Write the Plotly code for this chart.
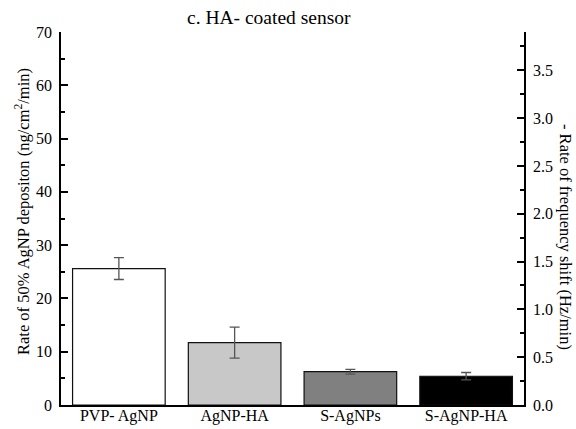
import plotly.graph_objects as go

categories = ["PVP- AgNP", "AgNP-HA", "S-AgNPs", "S-AgNP-HA"]
deposition_rate = [25.6, 11.7, 6.25, 5.4]
deposition_err = [2.05, 2.9, 0.45, 0.7]
bar_colors = ["#ffffff", "#c8c8c8", "#808080", "#000000"]

left_range = [0, 70]
right_range = [0, 3.9]

W, H = 576, 429
ml, mr, mt, mb = 61, 52, 32, 24
pw = W - ml - mr
ph = H - mt - mb

FONT = "Liberation Serif"

fig = go.Figure()
fig.add_trace(go.Bar(
    x=categories, y=deposition_rate,
    marker=dict(color=bar_colors, line=dict(color="#111111", width=1.2)),
    error_y=dict(type="data", array=deposition_err, visible=True,
                 color="#555555", thickness=1.3, width=5),
    showlegend=False,
))
fig.add_trace(go.Scatter(x=[], y=[], yaxis="y2", showlegend=False))

fig.update_layout(
    width=W, height=H,
    margin=dict(l=ml, r=mr, t=mt, b=mb, autoexpand=False),
    paper_bgcolor="white", plot_bgcolor="white",
    font=dict(family=FONT, size=16, color="black"),
    bargap=0.2,
    xaxis=dict(showline=True, linecolor="black", linewidth=1.5,
               ticks="", showgrid=False, automargin=False,
               tickfont=dict(family=FONT, size=16), ticklabelstandoff=-5),
    yaxis=dict(range=left_range, dtick=10, showline=True, linecolor="black",
               linewidth=1.5, ticks="inside", ticklen=7, tickwidth=1.5,
               tickcolor="black", showgrid=False, zeroline=False, automargin=False,
               minor=dict(ticks="inside", ticklen=4, dtick=5, tickwidth=1.5,
                          tickcolor="black", showgrid=False),
               tickfont=dict(family=FONT, size=16), ticklabelstandoff=4),
    yaxis2=dict(range=right_range, dtick=0.5, tickformat=".1f", overlaying="y",
                side="right", showline=True, linecolor="black", linewidth=1.5,
                ticks="inside", ticklen=7, tickwidth=1.5, tickcolor="black",
                showgrid=False, zeroline=False, automargin=False,
                minor=dict(ticks="inside", ticklen=4, dtick=0.25, tickwidth=1.5,
                           tickcolor="black", showgrid=False),
                tickfont=dict(family=FONT, size=16), ticklabelstandoff=4),
    annotations=[
        dict(text="c. HA- coated sensor", xref="paper", yref="paper",
             x=(268.5 - ml) / pw, y=1 + 14 / ph, xanchor="center",
             yanchor="middle", showarrow=False,
             font=dict(family=FONT, size=19.5, color="black")),
        dict(text="Rate of 50% AgNP depositon (ng/cm<sup>2</sup>/min)",
             xref="paper", yref="paper", x=(22 - ml) / pw,
             y=(H - mb - 212) / ph,
             xanchor="center", yanchor="middle", textangle=-90,
             showarrow=False, font=dict(family=FONT, size=16.5, color="black")),
        dict(text="- Rate of frequency shift (Hz/min)",
             xref="paper", yref="paper", x=(565 - ml) / pw,
             y=(H - mb - 237) / ph,
             xanchor="center", yanchor="middle", textangle=90,
             showarrow=False, font=dict(family=FONT, size=16.5, color="black")),
    ],
)

fig.write_html("out.html")
